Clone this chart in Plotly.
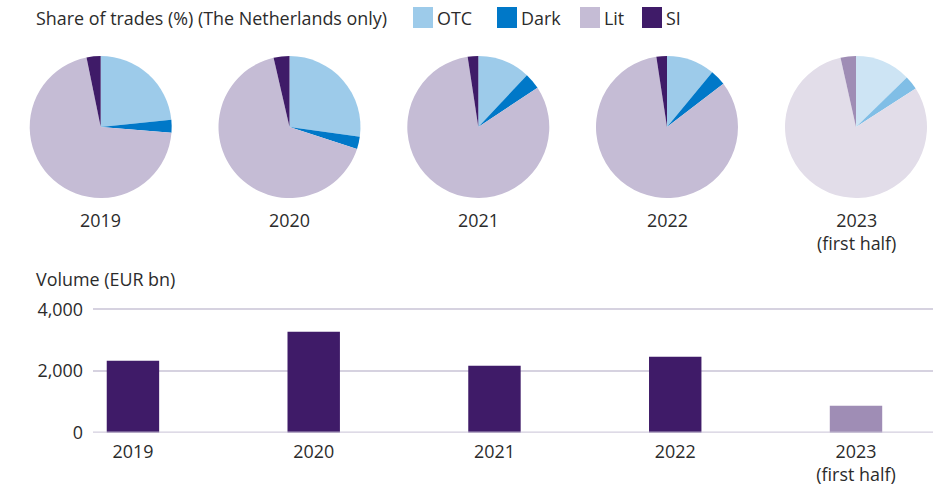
import plotly.graph_objects as go

# ---- data ----
years = ["2019", "2020", "2021", "2022", "2023"]
year_labels = ["2019", "2020", "2021", "2022", "2023<br>(first half)"]
segments = ["OTC", "Dark", "Lit", "SI"]
otc = [23.4, 27.2, 12.0, 11.0, 12.7]
dark = [2.9, 2.8, 3.7, 3.6, 3.2]
lit = [70.5, 66.4, 81.9, 83.0, 80.6]
si = [3.2, 3.6, 2.4, 2.4, 3.5]
volume = [2330, 3270, 2168, 2460, 874]
y_ticks = [0, 2000, 4000]
y_tick_labels = ["0", "2,000", "4,000"]

# ---- styles ----
W, H = 933, 485
FONT = "Open Sans"
FS = 17.9
TXT = "#2b2b2b"
full_cols = ["#9dcbea", "#0078c8", "#c5bcd5", "#3f1b68"]
faded_cols = ["#cde4f4", "#80bee6", "#e2dde9", "#9f8db5"]
bar_full = "#3f1b68"
bar_faded = "#9f8db5"
grid_col = "#d6d2e0"

fig = go.Figure()

# pies
pie_cx = [100.7, 289.5, 478.3, 667.0, 856.0]
pie_cy = 127.0
pie_r = 71.0
for i, yr in enumerate(years):
    cx = pie_cx[i]
    vals = [otc[i], dark[i], lit[i], si[i]]
    cols = faded_cols if i == len(years) - 1 else full_cols
    fig.add_trace(go.Pie(
        labels=segments, values=vals, sort=False, direction="clockwise",
        rotation=0, textinfo="none", hoverinfo="label+percent",
        marker=dict(colors=cols, line=dict(width=0)),
        domain=dict(x=[(cx - pie_r) / W, (cx + pie_r) / W],
                    y=[1 - (pie_cy + pie_r) / H, 1 - (pie_cy - pie_r) / H]),
        showlegend=False,
    ))
    fig.add_annotation(x=cx / W, y=1 - 206 / H, xref="paper", yref="paper",
                       text=year_labels[i], showarrow=False, yanchor="top",
                       xanchor="center", align="center",
                       font=dict(family=FONT, size=FS, color=TXT))

# bars
bar_cols = [bar_full] * (len(years) - 1) + [bar_faded]
fig.add_trace(go.Bar(
    x=years, y=volume, marker=dict(color=bar_cols, line=dict(width=0)),
    width=0.29, showlegend=False, hoverinfo="x+y",
))

# y axis geometry (pixels from top): value 0 at 432.7, value 4000 at 309.3
zero_px, top_px = 432.7, 309.3
px_per_unit = (zero_px - top_px) / 4000
y_max = 4150
dom_top_px = zero_px - y_max * px_per_unit

fig.update_layout(
    width=W, height=H, autosize=False,
    margin=dict(l=0, r=0, t=0, b=0, pad=0),
    paper_bgcolor="white", plot_bgcolor="white",
    font=dict(family=FONT, size=FS, color=TXT),
    xaxis=dict(domain=[93 / W, 1.0], range=[-0.221, 4.426], type="category",
               tickvals=years, ticktext=year_labels, showgrid=False,
               showline=False, zeroline=False, ticks="", automargin=False,
               ticklabelstandoff=6,
               tickfont=dict(family=FONT, size=FS, color=TXT)),
    yaxis=dict(domain=[1 - zero_px / H, 1 - dom_top_px / H], range=[0, y_max],
               tickvals=y_ticks, ticktext=y_tick_labels, showgrid=True,
               gridcolor=grid_col, gridwidth=1.5, zeroline=False,
               showline=False, ticks="", ticklabelstandoff=9,
               automargin=False,
               tickfont=dict(family=FONT, size=FS, color=TXT)),
)

# zero baseline drawn above bars (semi-transparent)
fig.add_shape(type="line", xref="paper", yref="y", x0=93 / W, x1=1.0,
              y0=0, y1=0, line=dict(color="rgba(200,194,214,0.8)", width=2.5),
              layer="above")

# titles
fig.add_annotation(x=34 / W, y=1 - 18 / H, xref="paper", yref="paper",
                   text="Share of trades (%) (The Netherlands only)",
                   showarrow=False, xanchor="left", yanchor="middle",
                   font=dict(family=FONT, size=FS, color=TXT))
fig.add_annotation(x=34 / W, y=1 - 279 / H, xref="paper", yref="paper",
                   text="Volume (EUR bn)", showarrow=False, xanchor="left",
                   yanchor="middle", font=dict(family=FONT, size=FS, color=TXT))

# custom legend
leg_x = [413, 497, 580, 642]
for seg, col, lx in zip(segments, full_cols, leg_x):
    fig.add_shape(type="rect", xref="paper", yref="paper",
                  x0=lx / W, x1=(lx + 20) / W, y0=1 - 28 / H, y1=1 - 7 / H,
                  fillcolor=col, line=dict(width=0))
    fig.add_annotation(x=(lx + 22) / W, y=1 - 18 / H, xref="paper",
                       yref="paper", text=seg, showarrow=False,
                       xanchor="left", yanchor="middle",
                       font=dict(family=FONT, size=FS, color=TXT))

fig.write_html(
    "out.html",
    config={"displayModeBar": False},
    post_script="document.body.style.margin='0px';"
                "document.body.style.overflow='hidden';",
)
